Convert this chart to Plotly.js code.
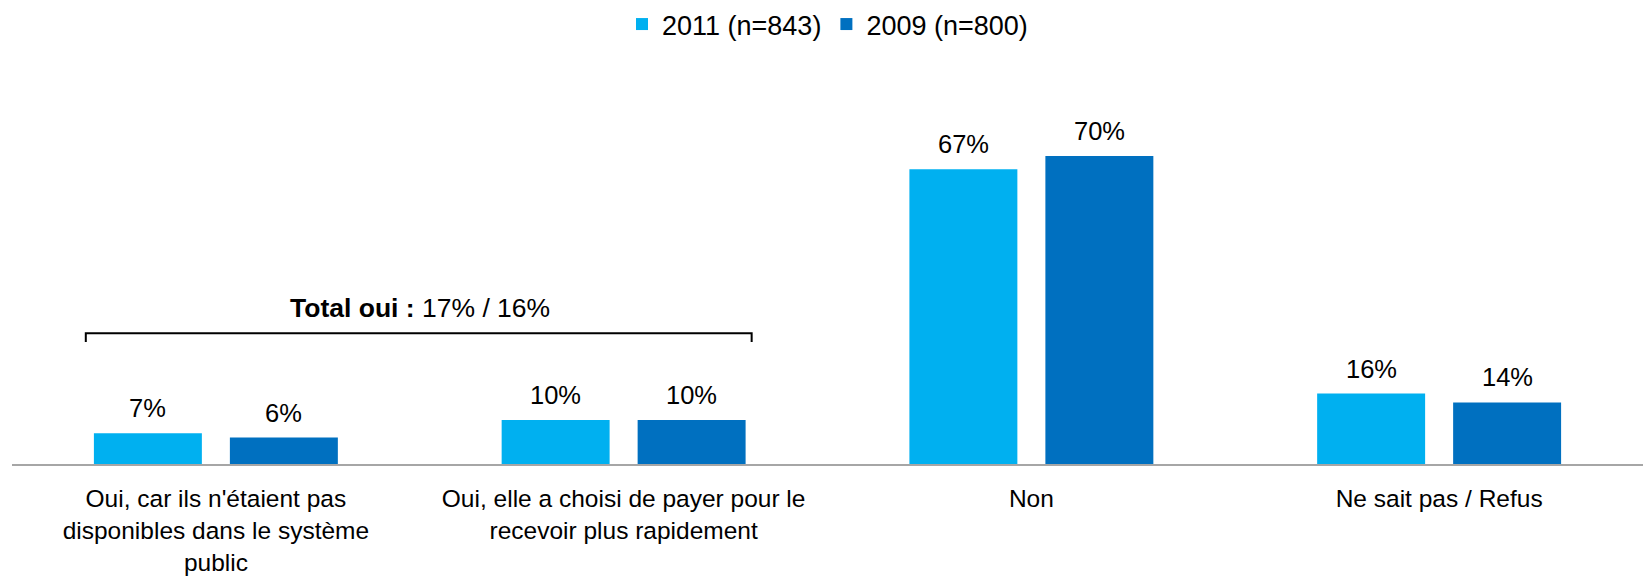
<!DOCTYPE html>
<html>
<head>
<meta charset="utf-8">
<script src="https://cdn.plot.ly/plotly-3.0.1.min.js"></script>
<style>
html,body{margin:0;padding:0;background:#fff;}
#chart{width:1643px;height:583px;}
</style>
</head>
<body>
<div id="chart"></div>
<script>
const categories = [
  "Oui, car ils n'étaient pas<br>disponibles dans le système<br>public",
  "Oui, elle a choisi de payer pour le<br>recevoir plus rapidement",
  "Non",
  "Ne sait pas / Refus"
];
const series2011 = [7, 10, 67, 16];
const series2009 = [6, 10, 70, 14];
const seriesNames = ["2011 (n=843)", "2009 (n=800)"];
const bracketLabel = "<b>Total oui :</b> 17% / 16%";

const FONT = "Liberation Sans, Arial, sans-serif";
const colors = ["#00B0F0", "#0070C0"];
const allSeries = [series2011, series2009];

const traces = allSeries.map((vals, k) => ({
  type: "bar",
  name: seriesNames[k],
  x: categories,
  y: vals,
  marker: {color: colors[k]},
  hoverinfo: "skip"
}));

const offset = 0.1667;
const annotations = [];
allSeries.forEach((vals, k) => {
  vals.forEach((v, i) => {
    annotations.push({
      x: i + (k === 0 ? -offset : offset),
      y: v,
      xref: "x", yref: "y",
      text: v + "%",
      showarrow: false,
      yanchor: "bottom",
      yshift: 9,
      font: {family: FONT, size: 25.5, color: "#000"}
    });
  });
});
annotations.push({
  x: 0.5, y: 35.4, xref: "x", yref: "y",
  text: bracketLabel, showarrow: false, yanchor: "middle",
  font: {family: FONT, size: 26.5, color: "#000"}
});

const layout = {
  width: 1643, height: 583,
  margin: {l: 12, r: 0, t: 111, b: 119},
  paper_bgcolor: "#fff", plot_bgcolor: "#fff",
  barmode: "group",
  bargap: 0.333,
  bargroupgap: 0.206,
  showlegend: true,
  legend: {
    orientation: "h", x: 0.5, xanchor: "center", y: 1.249, yanchor: "middle",
    itemwidth: 30,
    font: {family: FONT, size: 27, color: "#000"}
  },
  xaxis: {
    type: "category",
    showline: true, linecolor: "#A6A6A6", linewidth: 2,
    ticks: "", ticklabelstandoff: 12,
    tickfont: {family: FONT, size: 24.5, color: "#000"},
    showgrid: false, zeroline: false, fixedrange: true
  },
  yaxis: {
    range: [0, 80], showticklabels: false, showgrid: false,
    zeroline: false, showline: false, fixedrange: true
  },
  shapes: [{
    type: "path", xref: "x", yref: "y",
    path: "M -0.319,27.7 L -0.319,29.7 L 1.314,29.7 L 1.314,27.7",
    line: {color: "#000", width: 2}
  }],
  annotations: annotations
};

Plotly.newPlot("chart", traces, layout, {displayModeBar: false, staticPlot: true});
</script>
</body>
</html>
